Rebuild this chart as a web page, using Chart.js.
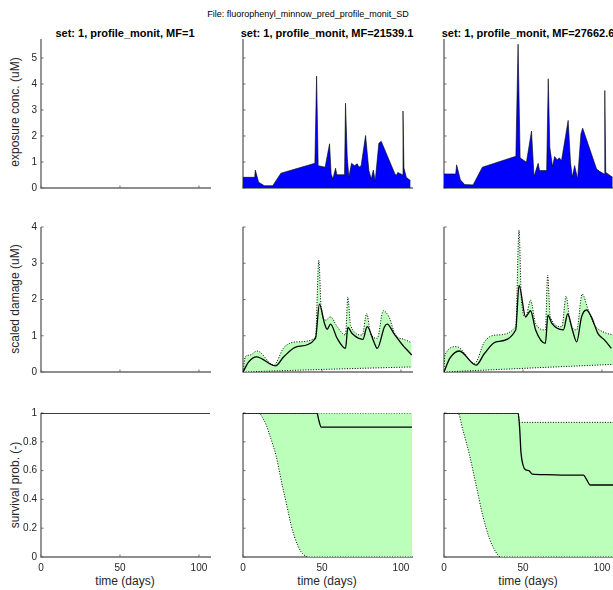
<!DOCTYPE html>
<html>
<head>
<meta charset="utf-8">
<script src="https://cdn.jsdelivr.net/npm/chart.js@4"></script>
<style>
  body { margin: 0; width: 613px; height: 590px; overflow: hidden; background: #fff; position: relative;
         font-family: "Liberation Sans", Arial, sans-serif; color: #262626; }
  canvas { position: absolute; }
  .txt { position: absolute; white-space: nowrap; transform: translate(-50%, -50%); }
  .ttl { font-size: 11px; font-weight: bold; color: #000; }
  .lab { font-size: 12px; line-height: 12px; }
  .rot { transform: translate(-50%, -50%) rotate(-90deg); }
</style>
</head>
<body>
<div class="txt" style="left:308px;top:14px;font-size:9px;color:#000">File: fluorophenyl_minnow_pred_profile_monit_SD</div>
<div class="txt ttl" style="left:125px;top:33px">set: 1, profile_monit, MF=1</div>
<div class="txt ttl" style="left:327px;top:33px">set: 1, profile_monit, MF=21539.1</div>
<div class="txt ttl" style="left:528px;top:33px">set: 1, profile_monit, MF=27662.6</div>
<div class="txt lab rot" style="left:15px;top:112px">exposure conc. (uM)</div>
<div class="txt lab rot" style="left:15px;top:299px">scaled damage (uM)</div>
<div class="txt lab rot" style="left:15px;top:485px">survival prob. (-)</div>
<div class="txt lab" style="left:125px;top:581px">time (days)</div>
<div class="txt lab" style="left:327px;top:581px">time (days)</div>
<div class="txt lab" style="left:528px;top:581px">time (days)</div>

<script>
// ticks
const xTickVals = [0, 50, 100];
const expoTicks = [0, 1, 2, 3, 4, 5];
const dmgTicks = [0, 1, 2, 3, 4];
const survTicks = [0, 0.2, 0.4, 0.6, 0.8, 1];
const survTickLabels = ['0', '0.2', '0.4', '0.6', '0.8', '1'];

// exposure, MF=21539.1
const expoDayB = [0,7.4,7.8,9.9,13.5,18.8,24,45.5,46.6,47.6,52,54.8,55.8,56.9,58.6,59.4,64.3,64.9,66,67,68.7,70.6,72.3,73.4,74.8,77.6,79.7,81.2,82.5,83.7,86,87.5,96.2,97,98,100.9,101.3,101.9,103.4,106.1];
const expoConcB = [0.41,0.41,0.69,0.22,0.09,0.09,0.57,0.95,4.3,0.86,0.8,1.7,0.54,0.35,0.76,0.51,0.51,3.26,1.2,0.41,0.95,0.86,0.93,0.8,0.86,2.02,0.67,0.35,0.69,0.26,1.72,1.8,0.54,0.48,0.6,0.51,2.96,0.77,0.41,0.28];
// exposure, MF=27662.6
const expoDayC = [0,7.4,8,10.4,13.1,18.4,24.3,45.5,46.9,48.2,52.2,55.4,57,59.6,60.5,65,66,67,68.7,70,71.7,73,74.4,78.6,80.1,81.2,82.7,84.6,86.7,87.8,96.6,98.7,101.4,101.8,102.4,106.8];
const expoConcC = [0.54,0.54,0.89,0.31,0.13,0.12,0.8,1.22,5.53,1.16,0.99,2.19,0.44,0.95,0.67,0.67,4.2,1.57,0.82,1.21,1.08,1.16,1.05,2.6,0.99,0.41,0.86,0.35,2.08,2.3,0.73,0.63,0.54,3.75,0.6,0.41];

// scaled damage, MF=21539.1
const dmgUpDayB = [0,1.5,4.6,8.9,19.5,25.8,34.2,45.9,48,49.5,52.2,55.4,59.6,64.9,66.4,68.1,75.5,78.3,80.8,85,88.8,92.4,96.6,101.9,106.8];
const dmgUpB = [0,0.42,0.47,0.58,0.19,0.67,0.83,0.95,3.08,1.75,1.43,1.52,1.25,1.02,2.07,1.29,1.02,1.61,1.06,0.93,1.69,1.52,1.02,0.9,0.81];
const dmgLoDayB = [0, 50, 107];
const dmgLoB = [0, 0.07, 0.14];
const dmgMedDayB = [0,3.6,8.5,20.5,25.8,34.2,45.9,48.4,51.6,53.3,55.4,59.6,64.9,66.4,69.1,75.9,78.6,82.9,85,89.6,91.3,95.6,101.9,103,106.8];
const dmgMedB = [0,0.28,0.42,0.17,0.42,0.7,0.93,1.87,1.34,1.18,1.32,0.93,0.65,1.23,1.06,0.9,1.25,0.83,0.65,1.25,1.32,1.06,0.7,0.65,0.47];
// scaled damage, MF=27662.6
const dmgUpDayC = [0,0.6,7.9,19.4,25.6,32.9,45.4,47.5,49,51.7,54.8,58,64.2,65.6,67.3,74.6,77.3,79.8,84,87.5,91.3,95.4,100.6,107];
const dmgUpC = [0,0.47,0.7,0.24,0.83,1.02,1.25,3.91,2.0,1.52,1.98,1.34,1.16,2.67,1.52,1.25,2.09,1.39,1.16,2.15,1.71,1.29,1.11,1.02];
const dmgLoDayC = [0, 50, 107];
const dmgLoC = [0, 0.1, 0.21];
const dmgMedDayC = [0,3.75,9.6,20.4,25.6,32.9,45.4,47.5,51.7,54.8,58,64.2,65.8,68.3,75.6,78.3,81.3,84,87.1,90.2,93.3,97.5,101.7,106];
const dmgMedC = [0,0.38,0.58,0.19,0.51,0.83,1.16,2.39,1.52,1.69,1.16,0.79,1.57,1.34,1.16,1.6,1.16,0.83,1.52,1.71,1.52,1.06,0.88,0.65];

// survival, MF=1
const survDayA = [0, 107];
const survA = [1, 1];
// survival, MF=21539.1
const survUpDayB = [0, 107];
const survUpB = [1, 1];
const survLoDayB = [0,10,12.5,14.6,16.8,18.9,21,23.1,25.2,27.3,30.5,32.6,34.7,36.8,40,42,107];
const survLoB = [1,1,0.965,0.92,0.85,0.78,0.7,0.59,0.48,0.38,0.22,0.14,0.08,0.035,0.005,0,0];
const survMedDayB = [0,46.8,48,49.5,107];
const survMedB = [1,1,0.95,0.902,0.902];
// survival, MF=27662.6
const survUpDayC = [0,47,47.9,107];
const survUpC = [1,1,0.935,0.935];
const survLoDayC = [0,8.8,11.9,16.1,20.3,24.5,28.7,32.8,36,107];
const survLoC = [1,1,0.884,0.71,0.5,0.29,0.13,0.035,0,0];
const survMedDayC = [0,46.9,47.9,48.7,50,51.7,53.8,55.9,64.2,76.8,88.3,90.4,92.5,107];
const survMedC = [1,1,0.895,0.73,0.64,0.605,0.6,0.575,0.572,0.568,0.568,0.535,0.5,0.5];

const pts = (xs, ys) => xs.map((x, i) => ({ x: x, y: ys[i] }));

const colLeft = [41, 243, 444];
const plotW = 169;
const rowTop = [39, 227, 413];
const rowH = [149, 145, 144];
const pad = { left: 40, top: 6, right: 6, bottom: 22 };

// matlab-ish axes: left + bottom lines, inward ticks
const matAxes = {
  id: 'matAxes',
  beforeDatasetsDraw(chart, args, o) {
    const { ctx, chartArea: a, scales: { x, y } } = chart;
    ctx.save();
    ctx.strokeStyle = '#6a6a6a';
    ctx.lineWidth = 1.4;
    ctx.beginPath();
    ctx.moveTo(a.left, a.top);
    ctx.lineTo(a.left, a.bottom);
    ctx.lineTo(a.right + 1, a.bottom);
    ctx.stroke();
    ctx.lineWidth = 1;
    ctx.beginPath();
    xTickVals.forEach(v => {
      const px = x.getPixelForValue(v);
      ctx.moveTo(px, a.bottom);
      ctx.lineTo(px, a.bottom - 2.5);
    });
    o.yTicks.forEach(v => {
      const py = y.getPixelForValue(v);
      ctx.moveTo(a.left, py);
      ctx.lineTo(a.left + 2.5, py);
    });
    ctx.stroke();
    ctx.fillStyle = '#262626';
    ctx.font = '10px "Liberation Sans", Arial, sans-serif';
    if (o.yLabels) {
      ctx.textAlign = 'right';
      ctx.textBaseline = 'middle';
      o.yTicks.forEach((v, i) => ctx.fillText(o.yLabels[i], a.left - 4, y.getPixelForValue(v)));
    }
    if (o.xLabels) {
      ctx.textAlign = 'center';
      ctx.textBaseline = 'middle';
      xTickVals.forEach(v => ctx.fillText(String(v), x.getPixelForValue(v), a.bottom + 11));
    }
    ctx.restore();
  }
};

const green = '#bbffbb';
const dotted = (data, extra) => Object.assign({
  data: data, borderColor: '#000', borderWidth: 1, borderDash: [1, 1.6],
  pointRadius: 0, fill: false, cubicInterpolationMode: 'monotone'
}, extra);
const solid = data => ({
  data: data, borderColor: '#000', borderWidth: 1.3, pointRadius: 0,
  fill: false, cubicInterpolationMode: 'monotone', order: 0
});

function panel(col, row, ymax, yTicks, datasets) {
  const c = document.createElement('canvas');
  const w = plotW + pad.left + pad.right, h = rowH[row] + pad.top + pad.bottom;
  c.width = w; c.height = h;
  c.style.left = (colLeft[col] - pad.left) + 'px';
  c.style.top = (rowTop[row] - pad.top) + 'px';
  c.style.width = w + 'px'; c.style.height = h + 'px';
  document.body.appendChild(c);
  let yLabels = null;
  if (col === 0) yLabels = row === 2 ? survTickLabels : yTicks.map(String);
  new Chart(c, {
    type: 'line',
    data: { datasets: datasets },
    plugins: [matAxes],
    options: {
      responsive: false,
      animation: false,
      events: [],
      layout: { padding: pad },
      scales: {
        x: { type: 'linear', min: 0, max: 107, display: false },
        y: { type: 'linear', min: 0, max: ymax, display: false }
      },
      plugins: {
        legend: { display: false },
        tooltip: { enabled: false },
        matAxes: { yTicks: yTicks, yLabels: yLabels, xLabels: row === 2 }
      }
    }
  });
}

const expoSet = (xs, ys) => [{
  data: pts(xs, ys), fill: 'origin', backgroundColor: '#0000ff',
  borderColor: '#000', borderWidth: 0.6, pointRadius: 0, tension: 0
}];
const bandSet = (loX, lo, upX, up, medX, med) => [
  dotted(pts(loX, lo), { order: 1 }),
  dotted(pts(upX, up), { order: 2, fill: { target: 0 }, backgroundColor: green }),
  solid(pts(medX, med))
];

// row 1: exposure
panel(0, 0, 5.73, expoTicks, []);
panel(1, 0, 5.73, expoTicks, expoSet(expoDayB, expoConcB));
panel(2, 0, 5.73, expoTicks, expoSet(expoDayC, expoConcC));
// row 2: scaled damage
panel(0, 1, 4, dmgTicks, []);
panel(1, 1, 4, dmgTicks, bandSet(dmgLoDayB, dmgLoB, dmgUpDayB, dmgUpB, dmgMedDayB, dmgMedB));
panel(2, 1, 4, dmgTicks, bandSet(dmgLoDayC, dmgLoC, dmgUpDayC, dmgUpC, dmgMedDayC, dmgMedC));
// row 3: survival
panel(0, 2, 1, survTicks, [solid(pts(survDayA, survA))]);
panel(1, 2, 1, survTicks, bandSet(survLoDayB, survLoB, survUpDayB, survUpB, survMedDayB, survMedB));
panel(2, 2, 1, survTicks, bandSet(survLoDayC, survLoC, survUpDayC, survUpC, survMedDayC, survMedC));
</script>
</body>
</html>
